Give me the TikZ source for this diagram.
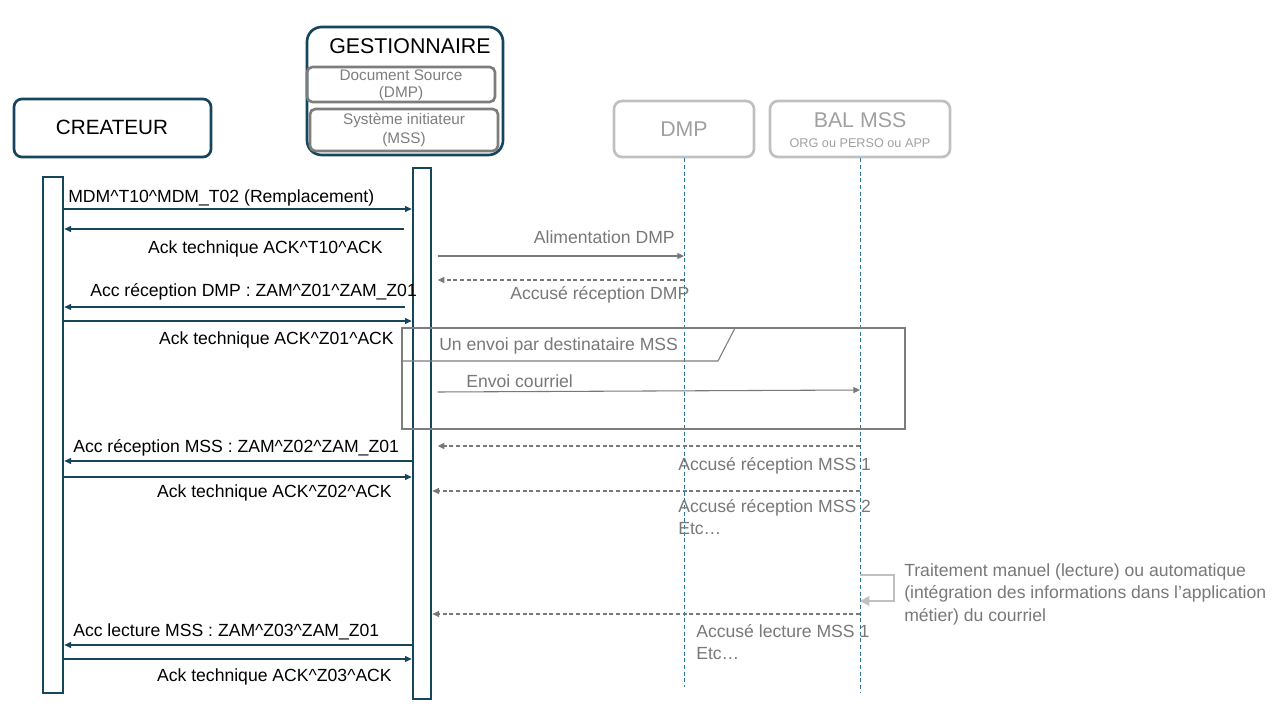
\documentclass[tikz,border=0pt]{standalone}
\usepackage{fontspec}
\setmainfont{Liberation Sans}
\usetikzlibrary{arrows.meta, fit}

\definecolor{tealdark}{RGB}{22,69,94}
\definecolor{lifeblue}{RGB}{45,115,150}
\definecolor{msggray}{RGB}{120,120,120}
\definecolor{boxgray}{RGB}{125,125,125}
\definecolor{palegray}{RGB}{192,192,192}
\definecolor{headgray}{RGB}{160,160,160}

\begin{document}
\begin{tikzpicture}[
            x = 0.75pt, y = -0.75pt,
            > = {Triangle[length=5pt,width=4.5pt]},
  actor/.style = {draw=tealdark, line width=2pt, rounded corners=6pt, inner sep=0pt},
  ghost/.style = {draw=palegray, line width=2pt, rounded corners=6pt, inner sep=0pt},
  inbox/.style = {draw=boxgray, line width=2pt, rounded corners=4pt, inner sep=0pt},
  title/.style = {inner sep=0pt, font=\fontsize{16}{18}\selectfont},
  small/.style = {inner sep=0pt, text=boxgray, align=center},
    bar/.style = {draw=tealdark, line width=2pt, fill=white, inner sep=0pt},
   life/.style = {draw=lifeblue, line width=0.75pt, dash pattern=on 3pt off 2pt},
    msg/.style = {draw=tealdark, line width=0.8pt, ->},
   gmsg/.style = {draw=msggray, line width=0.8pt, ->},
   gret/.style = {draw=msggray, line width=0.8pt, dash pattern=on 3pt off 2pt, ->},
    lbl/.style = {inner sep=0pt, yshift=-1.5pt, font=\fontsize{13.2}{17}\selectfont},
   glbl/.style = {lbl, text=msggray, align=left}
                        ]
\useasboundingbox (0,0) rectangle (1280,720);
% participants
\node[actor, fit={(14,99) (211,157)}] (crea) {};
\node[title, font=\fontsize{15.5}{18}\selectfont] (creaTitle) at (112,127) {CREATEUR};
\node[actor, rounded corners=11pt, fit={(307,27) (503,155)}] (gest) {};
\node[title] (gestTitle) at (410,46) {GESTIONNAIRE};
\node[inbox, fit={(307,67) (495,102)}] (docSrc) {};
\node[small, font=\fontsize{11.5}{12.75}\selectfont] (docTxt) at (401,85.5) {Document Source\\(DMP)};
\node[inbox, fit={(310,109) (498,151)}] (sysInit) {};
\node[small, font=\fontsize{11.5}{14}\selectfont] (sysTxt) at (404,130) {Système initiateur\\(MSS)};
\node[ghost, fit={(614,101) (754,157)}] (dmp) {};
\node[title, text=headgray] (dmpTitle) at (684,129) {DMP};
\node[ghost, fit={(770,101) (950,157)}] (bal) {};
\node[title, text=headgray] (balTitle) at (860,120) {BAL MSS};
\node[small, text=headgray, font=\fontsize{9.5}{11}\selectfont] (balSub) at (860,143) {ORG ou PERSO ou APP};
% lifelines
\coordinate (dmpEnd) at (684,687);
\coordinate (balEnd) at (860,692);
\draw[life] (dmp.south) -- (dmpEnd);
\draw[life] (bal.south) -- (balEnd);
\node[bar, fit={(43,177) (63,693)}] (creaBar) {};
\node[bar, fit={(413,168) (431,699)}] (gestBar) {};
% loop frame
\node[draw=boxgray, line width=1.5pt, inner sep=0pt, fit={(402,328) (905,429)}] (loop) {};
\coordinate (tagEnd) at (718,361);
\coordinate (tagTop) at (735,328);
\draw[boxgray, line width=0.8pt] (loop.west |- tagEnd) -- (tagEnd) -- (tagTop);
\node[glbl, anchor=west] (loopLbl) at (439,344) {Un envoi par destinataire MSS};
% createur <-> gestionnaire
\draw[msg] (creaBar.east |- 0,209) -- (gestBar.west |- 0,209);
\draw[msg] ([xshift=-6pt]gestBar.west |- 0,229) -- (creaBar.east |- 0,229);
\draw[msg] ([xshift=-5pt]gestBar.west |- 0,307) -- (creaBar.east |- 0,307);
\draw[msg] (creaBar.east |- 0,321) -- (gestBar.west |- 0,321);
\draw[msg] (gestBar.west |- 0,461) -- (creaBar.east |- 0,461);
\draw[msg] (creaBar.east |- 0,477) -- (gestBar.west |- 0,477);
\draw[msg] (gestBar.west |- 0,645) -- (creaBar.east |- 0,645);
\draw[msg] (creaBar.east |- 0,659) -- (gestBar.west |- 0,659);
\node[lbl, anchor=west] (m1) at (68,196) {MDM\^{}T10\^{}MDM\_T02 (Remplacement)};
\node[lbl, anchor=east] (m2) at (383,247) {Ack technique ACK\^{}T10\^{}ACK};
\node[lbl, anchor=west] (m3) at (90,290) {Acc réception DMP : ZAM\^{}Z01\^{}ZAM\_Z01};
\node[lbl, anchor=east] (m4) at (394,338) {Ack technique ACK\^{}Z01\^{}ACK};
\node[lbl, anchor=west] (m5) at (73,446) {Acc réception MSS : ZAM\^{}Z02\^{}ZAM\_Z01};
\node[lbl, anchor=east] (m6) at (392,491) {Ack technique ACK\^{}Z02\^{}ACK};
\node[lbl, anchor=west] (m7) at (73,630) {Acc lecture MSS : ZAM\^{}Z03\^{}ZAM\_Z01};
\node[lbl, anchor=east] (m8) at (392,675) {Ack technique ACK\^{}Z03\^{}ACK};
% gestionnaire <-> DMP / BAL MSS
\draw[gmsg] ([xshift=4pt]gestBar.east |- 0,256) -- (dmp |- 0,256);
\draw[gret] (dmp |- 0,280) -- ([xshift=4pt]gestBar.east |- 0,280);
\draw[gmsg] ([xshift=4pt]gestBar.east |- 0,392) -- (bal |- 0,390);
\draw[gret] (bal |- 0,446) -- ([xshift=4pt]gestBar.east |- 0,446);
\draw[gret] (bal |- 0,491) -- (gestBar.east |- 0,491);
\draw[gret] (bal |- 0,614) -- (gestBar.east |- 0,614);
\draw[draw=palegray, line width=2pt, -{Triangle[length=7pt,width=7pt]}]
    (bal |- 0,575) -- (894,575) -- (894,601) -- (bal |- 0,601);
\node[glbl, anchor=east] (g1) at (675,235) {Alimentation DMP};
\node[glbl, anchor=west] (g2) at (510,293) {Accusé réception DMP};
\node[glbl, anchor=west] (g3) at (466,379) {Envoi courriel};
\node[glbl, anchor=west] (g4) at (678,464) {Accusé réception MSS 1};
\node[glbl, anchor=north west] (g5) at (678,497) {Accusé réception MSS 2\\Etc…};
\node[glbl, anchor=north west] (g6) at (904,561) {Traitement manuel (lecture) ou automatique\\(intégration des informations dans l’application\\métier) du courriel};
\node[glbl, anchor=north west] (g7) at (696,622) {Accusé lecture MSS 1\\Etc…};
\end{tikzpicture}
\end{document}
